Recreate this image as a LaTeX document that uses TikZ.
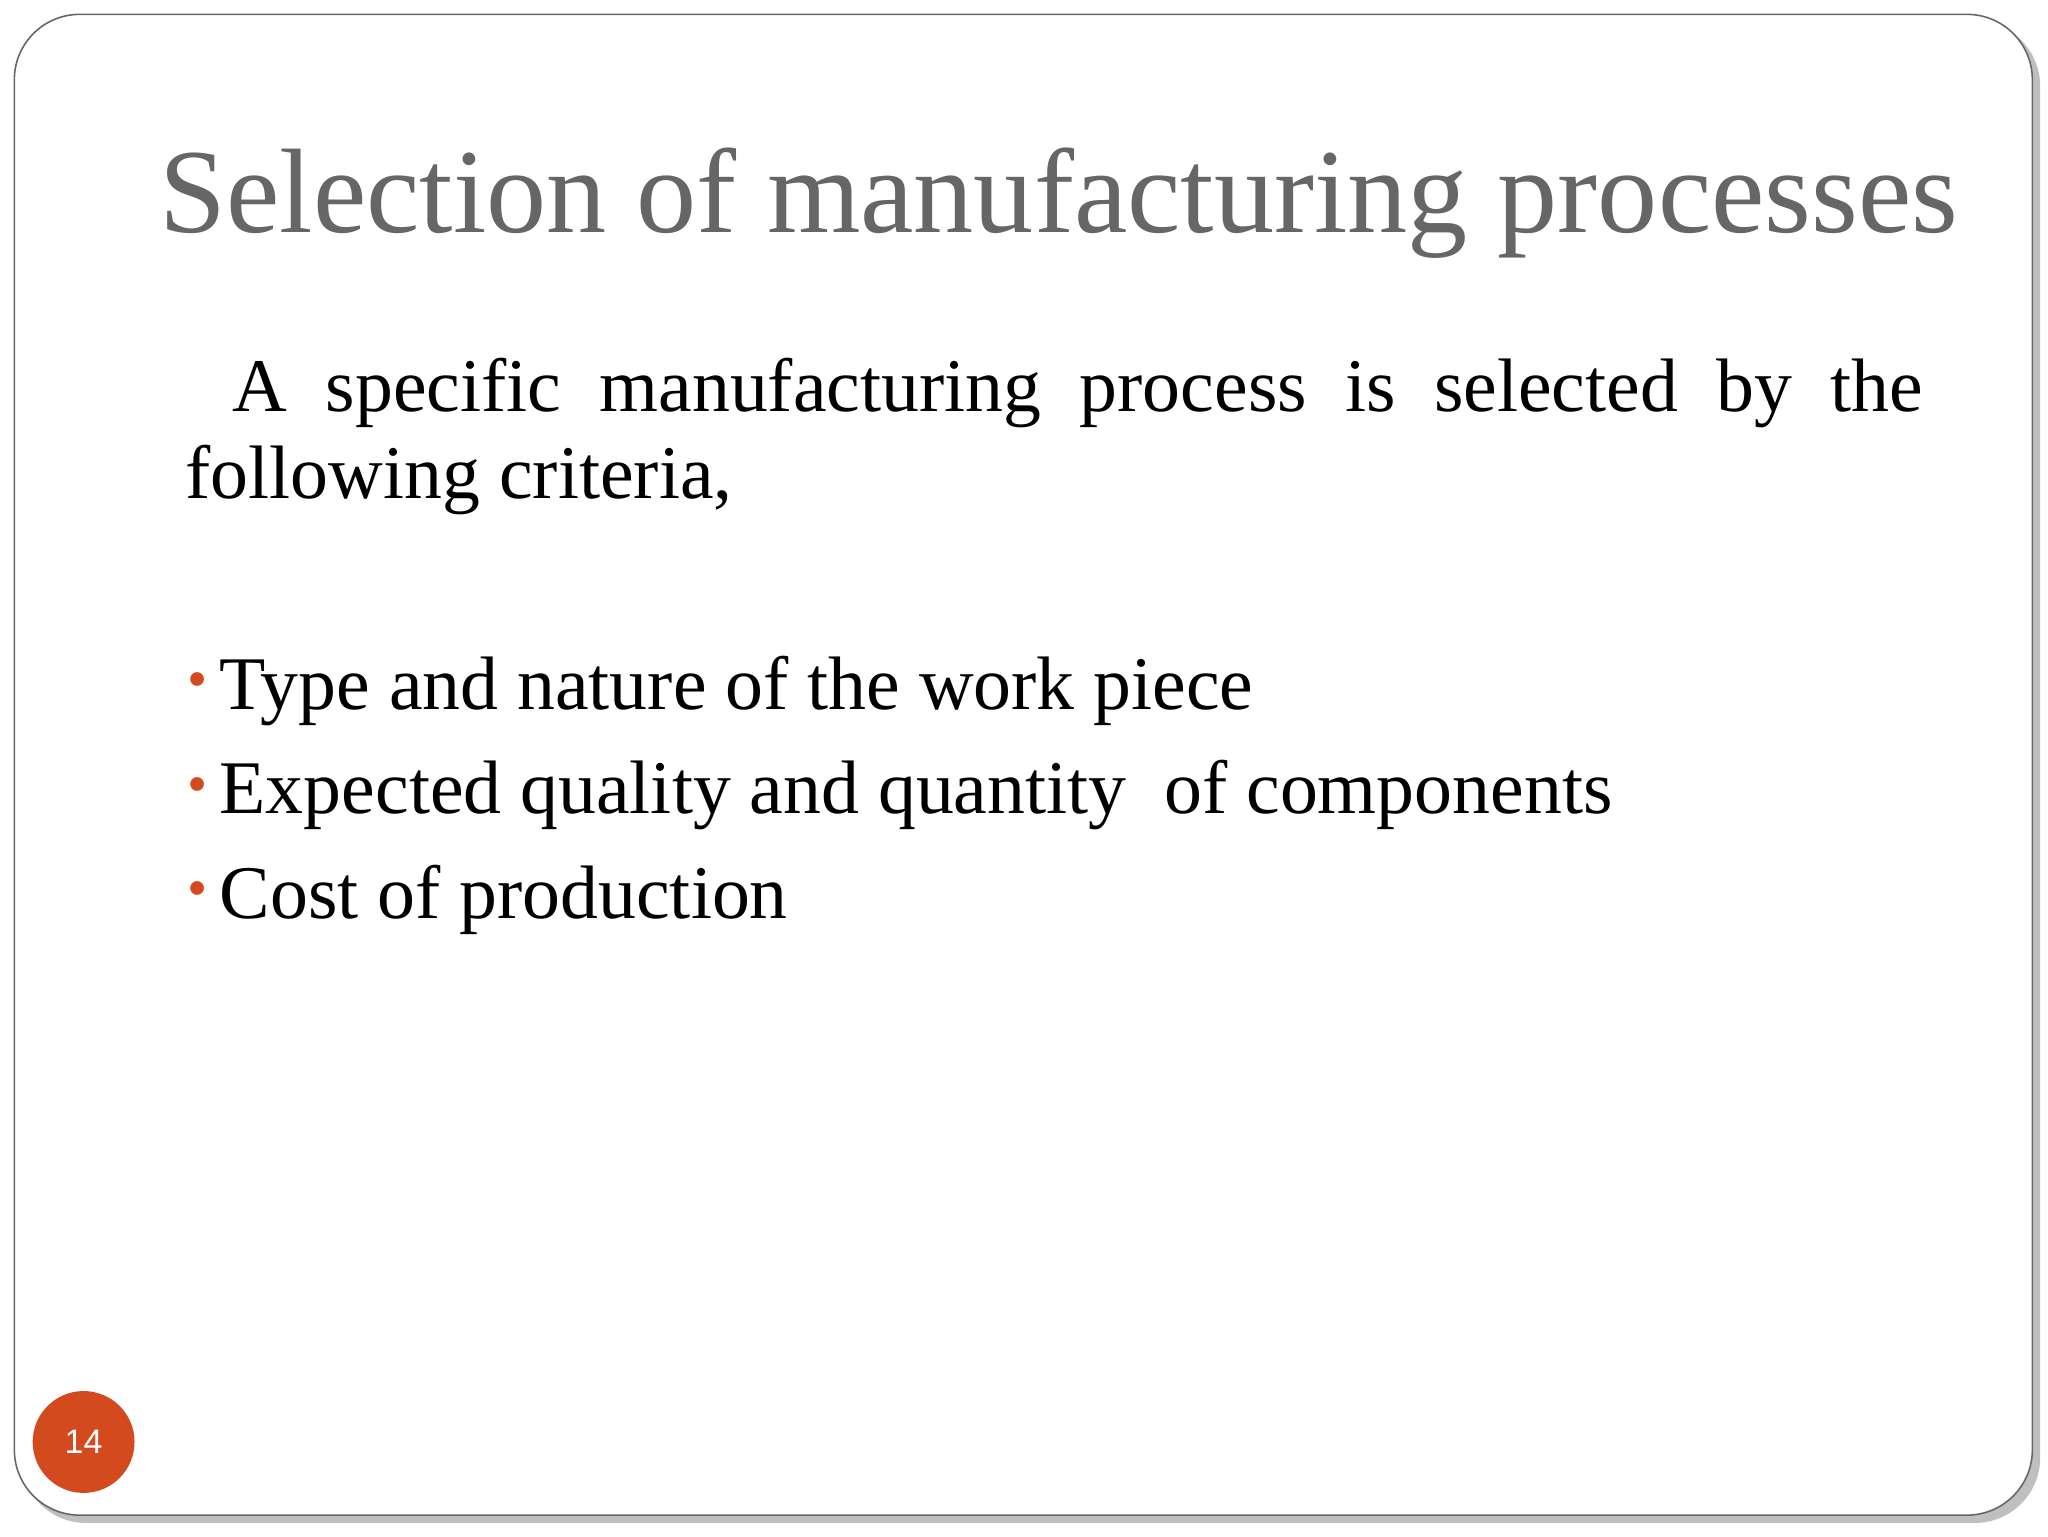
\documentclass[tikz,border=0pt]{standalone}
\usepackage{fontspec}
\setmainfont{Liberation Serif}
\newfontfamily\numfont{Liberation Sans}
\definecolor{accent}{HTML}{D24A1E}
\definecolor{titlegray}{HTML}{666666}
\begin{document}
\begin{tikzpicture}[x=1pt,y=-1pt,
  bodytext/.style={anchor=base west,inner sep=0pt,font=\fontsize{58}{68}\selectfont},
  bul/.style={anchor=base west,inner sep=0pt,text=accent,font=\fontsize{44}{50}\selectfont}]
\useasboundingbox (0,0) rectangle (1568,1176);
\fill[white] (0,0) rectangle (1568,1176);
\fill[black!25,rounded corners=50] (16,16) rectangle (1562,1166);
\draw[black!60,fill=white,line width=1.2pt,rounded corners=50] (11,11) rectangle (1556,1160);
\node[anchor=base west,inner sep=0pt,text=titlegray,font=\fontsize{92}{100}\selectfont] (title) at (122,178) {Selection of manufacturing processes};
\node[bodytext] (p1) at (142,315) {\hbox to 1330pt{\hspace{36pt}A\hfill specific\hfill manufacturing\hfill process\hfill is\hfill selected\hfill by\hfill the}};
\node[bodytext] (p2) at (142,382) {following criteria,};
\foreach \y/\t [count=\i] in {543/Type and nature of the work piece,623/Expected quality and quantity\ \ of components,703/Cost of production}{
  \node[bul] (b\i) at (143,\y-8) {•};
  \node[bodytext] (t\i) at (168,\y) {\t};
}
\node[circle,fill=accent,minimum size=78pt,inner sep=0pt,text=white,font=\numfont\fontsize{26}{30}\selectfont] (num) at (64,1104) {14};
\end{tikzpicture}
\end{document}
